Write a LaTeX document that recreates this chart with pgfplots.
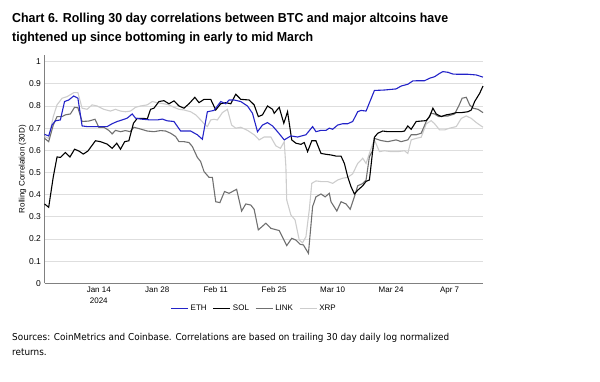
\documentclass[border=0pt]{standalone}
\usepackage{pgfplots}
\pgfplotsset{compat=1.18}
\usepackage{fontspec}
\usepackage{graphicx}
\setmainfont{Liberation Sans}
\newfontfamily\srcfont{DejaVu Sans}
\definecolor{ethc}{RGB}{35,35,200}
\definecolor{linkc}{RGB}{112,112,112}
\definecolor{xrpc}{RGB}{205,205,205}
\newlength{\tw}
\newlength{\sw}
\newcommand{\titlefont}{\fontsize{13}{19}\selectfont\bfseries}
\newcommand{\sfnt}{\srcfont\fontsize{9.5}{15}\selectfont}

\pgfplotstableread{
d v
0 0.672
1 0.665
1.8 0.714
2.6 0.733
3.8 0.737
4.8 0.82
5.8 0.827
7 0.845
8 0.835
9 0.71
10.2 0.707
15 0.707
16.2 0.72
17.4 0.73
18.6 0.737
19.8 0.745
21 0.764
21.8 0.745
23 0.741
25.4 0.737
27 0.737
28.2 0.741
29.4 0.733
31 0.73
32.6 0.687
35 0.687
36.6 0.67
37.8 0.65
39 0.774
40.6 0.78
42.2 0.82
43.4 0.81
44.2 0.827
45.4 0.827
47 0.82
48.6 0.80
49.8 0.767
51 0.684
52.2 0.714
53.4 0.725
54.6 0.71
55.8 0.684
57.4 0.647
59 0.665
60.6 0.66
62.6 0.67
64.2 0.707
65 0.684
66.2 0.69
67.4 0.69
68.2 0.70
69 0.695
70.2 0.714
71.4 0.72
72.6 0.72
73.8 0.73
75 0.774
75.8 0.78
77 0.777
79 0.87
81.4 0.872
84.2 0.877
85.4 0.89
87 0.898
88.2 0.913
89.4 0.914
91 0.914
92.2 0.925
93.4 0.932
94.6 0.947
95.4 0.955
96.6 0.952
97.8 0.944
99 0.943
101.4 0.943
103.4 0.94
105 0.93
}\eth

\pgfplotstableread{
d v
0 0.358
1 0.343
2.1 0.48
3 0.57
3.8 0.568
5 0.59
6.1 0.57
7.2 0.605
8.2 0.597
9.3 0.583
10.4 0.597
12.2 0.643
13.4 0.639
15 0.628
16.2 0.609
17.3 0.632
18.2 0.605
19.2 0.639
20.2 0.643
21.3 0.722
22.2 0.744
23.8 0.744
24.6 0.741
25.4 0.785
26.2 0.79
27.4 0.82
28.6 0.824
29.8 0.81
31 0.823
32.2 0.80
33.4 0.79
34.6 0.81
36 0.839
37 0.815
38.2 0.83
39.8 0.83
41 0.782
42.2 0.81
43.4 0.815
44.6 0.81
45.8 0.853
47 0.83
49 0.827
50.2 0.805
51.2 0.752
52.2 0.76
53.4 0.80
54.6 0.785
55 0.767
56.2 0.794
57.3 0.722
58.2 0.774
59.2 0.647
60.2 0.632
61.4 0.627
62.2 0.635
63 0.594
64 0.643
65 0.643
66.2 0.586
67.4 0.582
68.6 0.579
69.8 0.574
71 0.574
71.8 0.541
72.6 0.481
73.4 0.436
74.2 0.403
75 0.42
76.2 0.44
77 0.46
77.8 0.466
78.6 0.60
79 0.659
79.8 0.677
81 0.687
82.2 0.684
83.8 0.684
85.4 0.684
86.2 0.687
87 0.71
87.8 0.695
89 0.73
90.2 0.732
91.4 0.734
92.2 0.752
93 0.79
93.8 0.764
95 0.752
96.2 0.76
97.4 0.764
98.6 0.77
99.8 0.77
101.4 0.774
102.2 0.782
103 0.82
104.2 0.857
105 0.89
}\sol

\pgfplotstableread{
d v
0 0.654
1 0.639
2.1 0.714
3 0.752
4.2 0.752
5 0.76
6.2 0.764
7.2 0.794
8 0.792
9 0.73
10.6 0.732
12.1 0.74
13 0.704
14.2 0.704
15.4 0.69
16.2 0.674
17 0.69
18.2 0.684
19.4 0.689
20.5 0.684
21.4 0.704
23 0.696
24.6 0.687
26.2 0.684
27.8 0.689
29 0.687
30.2 0.677
31.4 0.662
32.2 0.639
33.4 0.639
34.6 0.635
35.4 0.617
36.6 0.568
37.4 0.549
38.2 0.504
39.4 0.478
40.2 0.478
41 0.368
42 0.364
43.1 0.414
44.2 0.406
46 0.424
47.2 0.326
48.2 0.358
49.4 0.353
50.2 0.334
51.2 0.241
53 0.271
54.2 0.248
56.2 0.238
57 0.208
58 0.17
59.2 0.203
60.2 0.195
61.2 0.176
62 0.173
63.2 0.135
64.2 0.346
65 0.39
66.2 0.403
67.2 0.39
68.2 0.406
68.6 0.368
70 0.326
71 0.368
72.2 0.358
73.2 0.334
74.2 0.39
75 0.44
76.2 0.45
77 0.466
77.8 0.571
78.6 0.60
79 0.654
80.6 0.644
82.2 0.639
84.2 0.647
85.4 0.639
87 0.647
87.8 0.67
89 0.67
90.2 0.677
91.4 0.73
92.6 0.767
93.4 0.764
94.4 0.752
95.4 0.755
96.6 0.755
98.2 0.764
99.2 0.80
100 0.835
101 0.839
101.8 0.805
102.6 0.79
103.8 0.785
105 0.77
}\link

\pgfplotstableread{
d v
0 0.662
1 0.654
2.1 0.752
3 0.805
4.2 0.835
5.4 0.842
7 0.86
8 0.86
9 0.79
10.2 0.785
11.4 0.805
12.6 0.80
14.2 0.785
15.8 0.777
17 0.785
18.2 0.777
19.4 0.774
20.6 0.777
21.8 0.794
23 0.80
24.6 0.805
25.8 0.82
27 0.815
28.6 0.81
29.8 0.805
31 0.794
32.2 0.785
33.4 0.782
35 0.774
36.2 0.76
37.4 0.737
38.2 0.72
39 0.707
39.8 0.737
40.6 0.74
41.4 0.737
42.6 0.77
43.8 0.785
44.8 0.714
45.8 0.70
47 0.704
48.6 0.69
50.2 0.67
51.4 0.647
52.6 0.66
54.2 0.66
55.4 0.62
56.5 0.609
57.4 0.639
57.8 0.526
58 0.376
59 0.308
60 0.286
61 0.195
61.8 0.183
62.6 0.21
63.4 0.331
64 0.451
65 0.462
66.2 0.459
67.8 0.459
69 0.451
70.2 0.466
71.4 0.474
72.6 0.478
73.8 0.494
75 0.541
76.2 0.564
77 0.541
77.8 0.586
78.6 0.63
79 0.647
80.2 0.594
81.4 0.598
83 0.594
84.6 0.594
86.2 0.598
87 0.586
87.8 0.647
89 0.654
90.2 0.659
91.4 0.719
92.6 0.734
93.4 0.72
94.6 0.692
95.8 0.692
97 0.70
98.6 0.707
99.8 0.744
101 0.755
102.2 0.744
103.4 0.725
105 0.704
}\xrp

\begin{document}
\settowidth{\tw}{\titlefont Chart 6. Rolling 30 day correlations between BTC and major altcoins have}%
\pgfmathsetmacro{\tsx}{436pt/\tw}%
\settowidth{\sw}{\sfnt Sources: CoinMetrics and Coinbase. Correlations are based on trailing 30 day daily log normalized}%
\pgfmathsetmacro{\ssx}{437pt/\sw}%
\begin{tikzpicture}[x=1pt,y=1pt]
\path[use as bounding box] (0,0) rectangle (600,381);
\begin{axis}[
  at={(44.5pt,97.7pt)}, anchor=south west, scale only axis,
  width=438.5pt, height=228.3pt,
  xmin=0, xmax=105, ymin=0, ymax=1.03,
  axis x line*=bottom, axis y line*=left,
  axis line style={draw=black!50, line width=0.7pt},
  major tick length=0pt,
  ytick={0,0.1,0.2,0.3,0.4,0.5,0.6,0.7,0.8,0.9,1},
  yticklabel={\pgfmathprintnumber[fixed,precision=1,assume math mode=true]{\tick}},
  yticklabel style={font=\fontsize{8.5}{10}\selectfont},
  ymajorgrids, grid style={draw=black!13, line width=0.7pt},
  xtick={13,27,41,55,69,83,97},
  xticklabels={{Jan 14\\2024},{Jan 28},{Feb 11},{Feb 25},{Mar 10},{Mar 24},{Apr 7}},
  xticklabel style={align=center, font=\fontsize{8}{11.5}\selectfont},
  ylabel={Rolling Correlation (30D)},
  ylabel style={at={(axis description cs:-0.05,0.5)}, anchor=center, font=\fontsize{8}{9}\selectfont},
  legend style={at={(axis description cs:0.478,-0.11)}, anchor=center, draw=none, fill=none,
    legend columns=4, font=\fontsize{8}{9}\selectfont,
    /tikz/every even column/.append style={column sep=4pt}},
  legend image code/.code={\draw[#1, line width=1.3pt] (0pt,0pt) -- (17pt,0pt);},
  reverse legend,
  clip=false,
]
\addplot[xrpc, line width=1.1pt] table[x=d,y=v] {\xrp};
\addlegendentry{XRP}
\addplot[linkc, line width=1.1pt] table[x=d,y=v] {\link};
\addlegendentry{LINK}
\addplot[black, line width=1.1pt] table[x=d,y=v] {\sol};
\addlegendentry{SOL}
\addplot[ethc, line width=1.1pt] table[x=d,y=v] {\eth};
\addlegendentry{ETH}
\end{axis}
\node[anchor=base west, inner sep=0] at (12,358.3) {\scalebox{\tsx}[1]{\titlefont Chart 6. Rolling 30 day correlations between BTC and major altcoins have}};
\node[anchor=base west, inner sep=0] at (12,339.3) {\scalebox{\tsx}[1]{\titlefont tightened up since bottoming in early to mid March}};
\node[anchor=base west, inner sep=0] at (12,40.3) {\scalebox{\ssx}[1]{\sfnt Sources: CoinMetrics and Coinbase. Correlations are based on trailing 30 day daily log normalized}};
\node[anchor=base west, inner sep=0] at (12,25.3) {\scalebox{\ssx}[1]{\sfnt returns.}};
\end{tikzpicture}
\end{document}
